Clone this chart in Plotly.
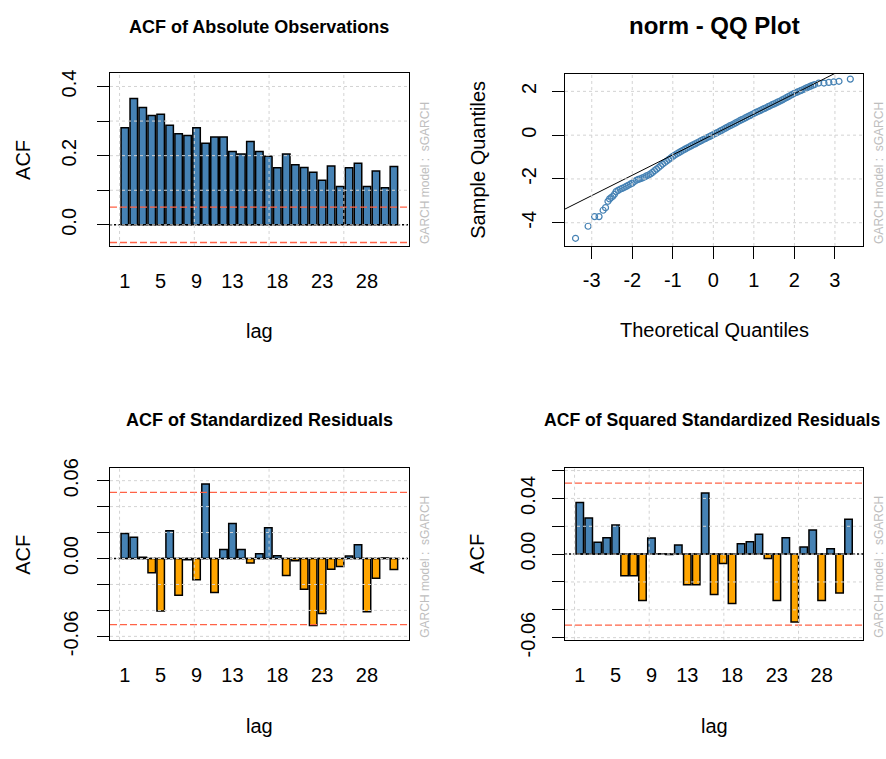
import plotly.graph_objects as go

W, H = 886, 759

# ---------------- data ----------------
lags = list(range(1, 32))
lag_tick_labels = [1, 5, 9, 13, 18, 23, 28]

acf_abs = [0.281, 0.365, 0.339, 0.316, 0.320, 0.288, 0.263, 0.258, 0.281, 0.236,
           0.254, 0.254, 0.212, 0.205, 0.241, 0.212, 0.198, 0.165, 0.205, 0.174,
           0.166, 0.152, 0.129, 0.170, 0.111, 0.165, 0.178, 0.111, 0.156, 0.107,
           0.169]
acf_std = [0.0192, 0.0164, 0.0010, -0.0110, -0.0404, 0.0214, -0.0284, -0.0010, -0.0164, 0.0575,
           -0.0262, 0.0070, 0.0269, 0.0070, -0.0035, 0.0037, 0.0237, 0.0022, -0.0130, -0.0017,
           -0.0237, -0.0516, -0.0424, -0.0082, -0.0062, 0.0020, 0.0107, -0.0411, -0.0152, 0.0003,
           -0.0085]
acf_sq = [0.0371, 0.0260, 0.0086, 0.0118, 0.0209, -0.0156, -0.0156, -0.0334, 0.0116, 0.0003,
          -0.0002, 0.0065, -0.0220, -0.0220, 0.0439, -0.0290, -0.0067, -0.0355, 0.0074, 0.0088,
          0.0142, -0.0032, -0.0334, 0.0118, -0.0487, 0.0051, 0.0174, -0.0334, 0.0039, -0.0279,
          0.0251]
conf_limit = 0.051

qq_theoretical = [-3.40, -3.09, -2.93, -2.82, -2.72, -2.66, -2.60, -2.56, -2.52, -2.48, -2.44,
                  -2.40, -2.35, -2.30, -2.25, -2.20, -2.15, -2.10, -2.05, -2.00, -1.95,
                  -1.90, -1.85, -1.80, -1.75, -1.70, -1.65, -1.60, -1.55, -1.50, -1.45,
                  -1.40, -1.35, -1.30, -1.25, -1.20, -1.15, -1.10, -1.05, -1.00, -0.95,
                  -0.90, -0.85, -0.80, -0.75, -0.70, -0.65, -0.60, -0.55, -0.50, -0.45,
                  -0.40, -0.35, -0.30, -0.25, -0.20, -0.15, -0.10, -0.05, 0.00, 0.05,
                  0.10, 0.15, 0.20, 0.25, 0.30, 0.35, 0.40, 0.45, 0.50, 0.55,
                  0.60, 0.65, 0.70, 0.75, 0.80, 0.85, 0.90, 0.95, 1.00, 1.05,
                  1.10, 1.15, 1.20, 1.25, 1.30, 1.35, 1.40, 1.45, 1.50, 1.55,
                  1.60, 1.65, 1.70, 1.75, 1.80, 1.85, 1.90, 1.95, 2.00, 2.05,
                  2.10, 2.15, 2.20, 2.25, 2.30, 2.35, 2.40, 2.45, 2.50,
                  2.60, 2.73, 2.85, 2.97, 3.10, 3.38]
qq_sample = [-4.71, -4.16, -3.72, -3.72, -3.43, -3.31, -3.02, -2.91, -2.85, -2.79, -2.70,
             -2.58, -2.52, -2.47, -2.43, -2.39, -2.34, -2.29, -2.24, -2.19, -2.12,
             -2.06, -2.02, -1.99, -1.95, -1.91, -1.86, -1.82, -1.77, -1.70, -1.62,
             -1.55, -1.48, -1.40, -1.32, -1.25, -1.18, -1.11, -1.04, -0.97, -0.91,
             -0.85, -0.80, -0.74, -0.69, -0.64, -0.59, -0.54, -0.49, -0.44, -0.40,
             -0.35, -0.30, -0.25, -0.20, -0.16, -0.11, -0.07, -0.02, 0.03, 0.08,
             0.12, 0.17, 0.22, 0.27, 0.32, 0.37, 0.42, 0.46, 0.51, 0.56,
             0.61, 0.66, 0.71, 0.75, 0.80, 0.85, 0.89, 0.94, 0.99, 1.04,
             1.08, 1.12, 1.17, 1.21, 1.25, 1.30, 1.34, 1.39, 1.43, 1.47,
             1.52, 1.56, 1.61, 1.66, 1.71, 1.76, 1.81, 1.86, 1.91, 1.95,
             1.99, 2.03, 2.07, 2.11, 2.16, 2.20, 2.24, 2.28, 2.31,
             2.38, 2.38, 2.41, 2.43, 2.46, 2.56]
qq_line_intercept = 0.03
qq_line_slope = 0.93
qq_x_ticks = [-3, -2, -1, 0, 1, 2, 3]
qq_x_labels = ["-3", "-2", "-1", "0", "1", "2", "3"]
qq_y_ticks = [-4, -2, 0, 2]
qq_y_labels = ["-4", "-2", "0", "2"]

model_note = "GARCH model :  sGARCH"

# ---------------- style ----------------
FONT = "Liberation Sans, Arial, sans-serif"
STEEL = "#4682B4"
ORANGE = "#FFA500"
TOMATO = "#FF6347"
LGRAY = "#D3D3D3"
NOTE_GRAY = "#BEBEBE"

# panel boxes in pixels (left, right, top, bottom)
BOX = {
    "TL": (110, 408.7, 66.7, 245.7),
    "TR": (565, 863.3, 67.0, 245.7),
    "BL": (110, 408.7, 476.0, 654.0),
    "BR": (565, 863.3, 476.0, 654.0),
}


def xdom(b):
    return [b[0] / W, b[1] / W]


def ydom(b):
    return [1 - b[3] / H, 1 - b[2] / H]


def px(x):
    return x / W


def py(y):
    return 1 - y / H


# barplot coordinate system (R barplot: width 1, space 0.2, 4% padding)
bar_w = 1 / 1.2
bar_xrange = [(-1.28 + 0.5) / 1.2, (38.68 + 0.5) / 1.2]
bar_vgrid = [(u + 0.5) / 1.2 for u in (0, 10, 20, 30)]

fig = go.Figure()

shapes = []


def hline(xa, ya, y, color, dash, width):
    return dict(type="line", xref=f"{xa} domain", x0=0, x1=1, yref=ya, y0=y, y1=y,
                line=dict(color=color, dash=dash, width=width), layer="above")


def vline(xa, ya, x, color, dash, width):
    return dict(type="line", yref=f"{ya} domain", y0=0, y1=1, xref=xa, x0=x, x1=x,
                line=dict(color=color, dash=dash, width=width), layer="above")


def add_acf(vals, xa, ya, ygrid):
    colors = [STEEL if v >= 0 else ORANGE for v in vals]
    fig.add_trace(go.Bar(x=lags, y=vals, width=bar_w,
                         marker=dict(color=colors, line=dict(color="black", width=1.5)),
                         xaxis=xa, yaxis=ya, hoverinfo="x+y"))
    shapes.append(hline(xa, ya, conf_limit, TOMATO, "7px,3px", 1.3))
    shapes.append(hline(xa, ya, -conf_limit, TOMATO, "7px,3px", 1.3))
    shapes.append(hline(xa, ya, 0, "black", "2px,2px", 1.5))
    for g in ygrid:
        shapes.append(hline(xa, ya, g, LGRAY, "dot", 1))
    for g in bar_vgrid:
        shapes.append(vline(xa, ya, g, LGRAY, "dot", 1))


tl_ticks = [0, 0.1, 0.2, 0.3, 0.4]
bl_ticks = [-0.06, -0.04, -0.02, 0, 0.02, 0.04, 0.06]

add_acf(acf_abs, "x", "y", tl_ticks)
add_acf(acf_std, "x3", "y3", bl_ticks)
add_acf(acf_sq, "x4", "y4", bl_ticks)

# QQ plot
qq_xr = [-3.66, 3.70]
fig.add_trace(go.Scatter(x=qq_theoretical, y=qq_sample, mode="markers",
                         marker=dict(symbol="circle-open", size=6, color=STEEL,
                                     line=dict(width=1.2, color=STEEL)),
                         xaxis="x2", yaxis="y2"))
fig.add_trace(go.Scatter(x=qq_xr, y=[qq_line_intercept + qq_line_slope * v for v in qq_xr],
                         mode="lines", line=dict(color="black", width=1),
                         xaxis="x2", yaxis="y2"))
for g in qq_y_ticks:
    shapes.append(hline("x2", "y2", g, LGRAY, "dot", 1))
for g in qq_x_ticks:
    shapes.append(vline("x2", "y2", g, LGRAY, "dot", 1))

tickfont = dict(family=FONT, size=20, color="black")


def yax(b, rng, vals, texts, standoff):
    return dict(domain=ydom(b), range=rng, tickvals=vals, ticktext=texts, tickangle=-90,
                ticks="outside", ticklen=12, tickwidth=1.3, tickcolor="black",
                showline=True, mirror=True, linecolor="black", linewidth=1.3,
                showgrid=False, zeroline=False, tickfont=tickfont, ticklabelstandoff=standoff,
                fixedrange=True)


def xbar(b, anchor):
    return dict(domain=xdom(b), range=bar_xrange, tickvals=lag_tick_labels,
                ticktext=[str(v) for v in lag_tick_labels], ticks="",
                showline=True, mirror=True, linecolor="black", linewidth=1.3,
                showgrid=False, zeroline=False, tickfont=tickfont, ticklabelstandoff=17,
                anchor=anchor, fixedrange=True)


fig.update_layout(
    width=W, height=H,
    margin=dict(l=0, r=0, t=0, b=0),
    paper_bgcolor="white", plot_bgcolor="white",
    showlegend=False,
    font=dict(family=FONT, color="black"),
    xaxis=xbar(BOX["TL"], "y"),
    yaxis=yax(BOX["TL"], [-0.061, 0.438], tl_ticks, ["0.0", "", "0.2", "", "0.4"], 13) | dict(anchor="x"),
    xaxis3=xbar(BOX["BL"], "y3"),
    yaxis3=yax(BOX["BL"], [-0.0626, 0.0697], bl_ticks,
               ["-0.06", "", "", "0.00", "", "", "0.06"], 11) | dict(anchor="x3"),
    xaxis4=xbar(BOX["BR"], "y4"),
    yaxis4=yax(BOX["BR"], [-0.0615, 0.0618], bl_ticks,
               ["-0.06", "", "", "0.00", "", "0.04", ""], 9) | dict(anchor="x4"),
    xaxis2=dict(domain=xdom(BOX["TR"]), range=qq_xr, tickvals=qq_x_ticks, ticktext=qq_x_labels,
                ticks="outside", ticklen=12, tickwidth=1.3, tickcolor="black",
                showline=True, mirror=True, linecolor="black", linewidth=1.3,
                showgrid=False, zeroline=False, tickfont=tickfont, ticklabelstandoff=4,
                anchor="y2", fixedrange=True),
    yaxis2=yax(BOX["TR"], [-5.06, 2.81], qq_y_ticks, qq_y_labels, 8) | dict(anchor="x2"),
    shapes=shapes,
)

ann = []


def text(x, y, s, size, bold=False, angle=0, color="black", xanchor="center", yanchor="middle"):
    ann.append(dict(x=px(x), y=py(y), xref="paper", yref="paper", text=(f"<b>{s}</b>" if bold else s),
                    showarrow=False, textangle=angle, xanchor=xanchor, yanchor=yanchor,
                    font=dict(family=FONT, size=size, color=color)))


# titles
text(259.4, 18.5, "ACF of Absolute Observations", 18, bold=True)
text(714, 17.5, "norm - QQ Plot", 24, bold=True)
text(259.4, 426.5, "ACF of Standardized Residuals", 18, bold=True)
text(712.5, 426.5, "ACF of Squared Standardized Residuals", 17.6, bold=True)

# axis titles
text(23, 156.5, "ACF", 20, angle=-90)
text(259.4, 334, "lag", 20)
text(478, 156.3, "Sample Quantiles", 20, angle=-90)
text(714, 333, "Theoretical Quantiles", 20)
text(23, 566, "ACF", 20, angle=-90)
text(259.4, 743, "lag", 20)
text(477, 565, "ACF", 20, angle=-90)
text(714, 743, "lag", 20)

# model notes
text(425, 245.7, model_note, 12, angle=-90, color=NOTE_GRAY, yanchor="bottom")
text(879, 245.7, model_note, 12, angle=-90, color=NOTE_GRAY, yanchor="bottom")
text(425, 654, model_note, 12, angle=-90, color=NOTE_GRAY, yanchor="bottom")
text(879, 654, model_note, 12, angle=-90, color=NOTE_GRAY, yanchor="bottom")

fig.update_layout(annotations=ann)

# remove the browser's default 8px page margin so the figure fills the window exactly
fig.write_html("out.html", config={"displayModeBar": False},
               post_script="document.body.style.margin='0px';")
